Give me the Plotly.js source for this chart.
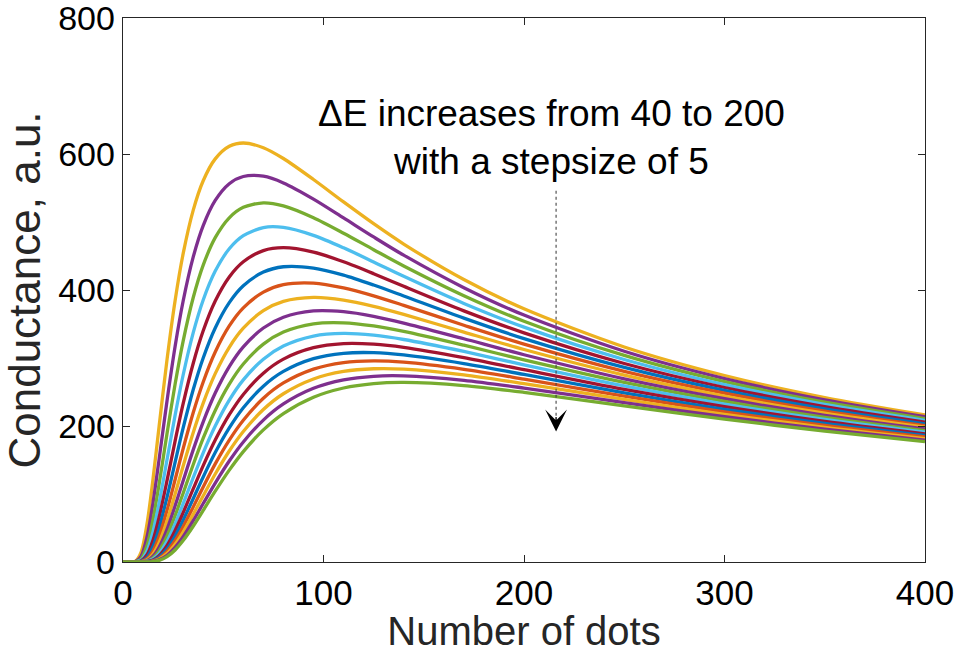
<!DOCTYPE html>
<html>
<head>
<meta charset="utf-8">
<script src="https://cdn.plot.ly/plotly-3.0.1.min.js"></script>
<style>html,body{margin:0;padding:0;background:#fff;}#chart{width:957px;height:653px;}</style>
</head>
<body>
<div id="chart"></div>
<script>
// Number of dots (x samples)
const dots = [0, 6, 9, 12, 15, 18, 22, 26, 30, 35, 40, 46, 53, 60, 70, 80, 95, 110, 125, 140, 170, 200, 250, 300, 350, 400];

// Conductance curves (a.u.), top curve first
const g01 = [0, 0.8, 14.2, 56.4, 122.7, 199.2, 298.7, 384.6, 453.4, 517.1, 560.6, 592.8, 611.3, 616.2, 609.3, 593.4, 562.5, 529.5, 497.5, 467.6, 415.4, 372.3, 316.2, 274.3, 241.9, 216.3];
const g02 = [0, 0.3, 8.2, 37.2, 87.9, 150.9, 238.0, 317.3, 383.8, 448.3, 494.7, 531.7, 556.3, 566.9, 567.3, 557.5, 533.7, 506.0, 478.0, 451.2, 403.4, 363.1, 309.9, 269.8, 238.5, 213.6];
const g03 = [0, 0.1, 4.7, 24.5, 63.0, 114.3, 189.6, 261.8, 324.9, 388.6, 436.6, 477.0, 506.2, 521.6, 528.2, 523.7, 506.3, 483.5, 459.3, 435.4, 391.7, 354.1, 303.8, 265.3, 235.1, 210.9];
const g04 = [0, 0, 2.7, 16.2, 45.1, 86.6, 151.0, 216.0, 275.0, 336.9, 385.3, 427.8, 460.6, 479.9, 491.8, 492.0, 480.3, 462.0, 441.3, 420.1, 380.3, 345.4, 297.8, 260.9, 231.7, 208.3];
const g05 = [0, 0, 1.5, 10.7, 32.3, 65.6, 120.3, 178.2, 232.8, 292.0, 340.0, 383.8, 419.2, 441.5, 457.9, 462.2, 455.7, 441.5, 424.0, 405.4, 369.3, 336.9, 291.9, 256.6, 228.5, 205.7];
const g06 = [0, 0, 0.9, 7.0, 23.2, 49.7, 95.9, 147.0, 197.1, 253.2, 300.1, 344.2, 381.4, 406.2, 426.3, 434.2, 432.3, 421.9, 407.3, 391.2, 358.6, 328.5, 286.1, 252.4, 225.2, 203.2];
const g07 = [0, 0, 0.5, 4.6, 16.6, 37.6, 76.4, 121.3, 166.8, 219.5, 264.8, 308.8, 347.1, 373.7, 396.9, 407.9, 410.2, 403.1, 391.4, 377.4, 348.2, 320.4, 280.4, 248.2, 222.0, 200.6];
const g08 = [0, 0, 0.3, 3.0, 11.9, 28.5, 60.8, 100.1, 141.2, 190.2, 233.7, 277.0, 315.8, 343.8, 369.6, 383.2, 389.1, 385.2, 376.0, 364.2, 338.1, 312.5, 274.9, 244.1, 218.9, 198.1];
const g09 = [0, 0, 0.2, 2.0, 8.5, 21.6, 48.5, 82.6, 119.5, 164.9, 206.2, 248.5, 287.4, 316.4, 344.1, 359.9, 369.2, 368.1, 361.3, 351.4, 328.3, 304.8, 269.4, 240.1, 215.8, 195.7];
const g10 = [0, 0, 0.1, 1.3, 6.1, 16.4, 38.6, 68.1, 101.2, 143.0, 182.0, 222.9, 261.5, 291.1, 320.4, 338.1, 350.2, 351.7, 347.1, 339.1, 318.8, 297.3, 264.1, 236.1, 212.7, 193.2];
const g11 = [0, 0, 0.1, 0.9, 4.4, 12.4, 30.8, 56.2, 85.7, 123.9, 160.6, 199.9, 238.0, 267.8, 298.3, 317.6, 332.3, 336.1, 333.5, 327.2, 309.6, 289.9, 258.9, 232.2, 209.7, 190.8];
const g12 = [0, 0, 0, 0.6, 3.1, 9.4, 24.5, 46.4, 72.5, 107.4, 141.7, 179.3, 216.6, 246.4, 277.7, 298.4, 315.2, 321.2, 320.4, 315.7, 300.6, 282.8, 253.8, 228.4, 206.7, 188.5];
const g13 = [0, 0, 0, 0.4, 2.2, 7.1, 19.5, 38.3, 61.4, 93.1, 125.1, 160.9, 197.1, 226.7, 258.6, 280.3, 299.1, 306.9, 307.9, 304.6, 291.9, 275.8, 248.7, 224.6, 203.8, 186.1];
const g14 = [0, 0, 0, 0.3, 1.6, 5.4, 15.6, 31.6, 51.9, 80.7, 110.4, 144.3, 179.3, 208.5, 240.8, 263.3, 283.7, 293.3, 295.8, 293.9, 283.4, 269.0, 243.8, 220.9, 200.9, 183.8];
const g15 = [0, 0, 0, 0.2, 1.1, 4.1, 12.4, 26.0, 44.0, 70.0, 97.4, 129.4, 163.2, 191.9, 224.2, 247.4, 269.2, 280.2, 284.2, 283.6, 275.2, 262.3, 239.0, 217.2, 198.1, 181.5];
const g16 = [0, 0, 0, 0.1, 0.8, 3.1, 9.9, 21.5, 37.2, 60.7, 86.0, 116.1, 148.5, 176.5, 208.7, 232.4, 255.4, 267.8, 273.1, 273.7, 267.2, 255.8, 234.3, 213.6, 195.3, 179.3];
const g17 = [0, 0, 0, 0.1, 0.6, 2.3, 7.9, 17.7, 31.5, 52.6, 75.9, 104.1, 135.1, 162.4, 194.3, 218.3, 242.3, 255.9, 262.4, 264.1, 259.5, 249.5, 229.6, 210.1, 192.5, 177.1];

const xTicks = [0, 100, 200, 300, 400];
const yTicks = [0, 200, 400, 600, 800];
const noteText = 'ΔE increases from 40 to 200<br>with a stepsize of 5';

const curves = [g01, g02, g03, g04, g05, g06, g07, g08, g09, g10, g11, g12, g13, g14, g15, g16, g17];
const palette = ['#EDB120', '#7E2F8E', '#77AC30', '#4DBEEE', '#A2142F', '#0072BD', '#D95319'];

const traces = curves.map((g, i) => ({
  x: dots, y: g, type: 'scatter', mode: 'lines',
  line: {color: palette[i % 7], width: 3.3, shape: 'spline', smoothing: 0.8},
  hoverinfo: 'skip', showlegend: false
}));

const FONT = 'Liberation Sans, Arial, Helvetica, sans-serif';
const axCol = '#262626';

const layout = {
  width: 957, height: 653,
  margin: {l: 123, r: 32, t: 18, b: 91},
  paper_bgcolor: '#fff', plot_bgcolor: '#fff',
  font: {family: FONT, color: '#000'},
  showlegend: false,
  xaxis: {
    range: [0, 400], tickvals: xTicks, ticktext: xTicks.map(String),
    ticks: 'inside', ticklen: 7, tickwidth: 1, tickcolor: axCol,
    showline: true, linecolor: axCol, linewidth: 1.3, mirror: 'ticks',
    showgrid: false, zeroline: false, ticklabeloverflow: 'allow',
    tickfont: {family: FONT, size: 35, color: '#000'},
    title: {text: 'Number of dots', font: {family: FONT, size: 40, color: '#262626'}, standoff: 4},
    automargin: false
  },
  yaxis: {
    range: [0, 800], tickvals: yTicks, ticktext: yTicks.map(String),
    ticks: 'inside', ticklen: 7, tickwidth: 1, tickcolor: axCol,
    showline: true, linecolor: axCol, linewidth: 1.3, mirror: 'ticks',
    showgrid: false, zeroline: false, ticklabeloverflow: 'allow',
    tickfont: {family: FONT, size: 34, color: '#000'},
    title: {text: 'Conductance, a.u.', font: {family: FONT, size: 44, color: '#262626'}, standoff: 4},
    automargin: false
  },
  shapes: [{
    type: 'line', xref: 'x', yref: 'y', x0: 216, x1: 216, y0: 546, y1: 210,
    line: {color: '#444', width: 1.1, dash: 'dot'}
  }],
  annotations: [{
    xref: 'x', yref: 'y', x: 213.5, y: 625, text: noteText, showarrow: false,
    font: {family: FONT, size: 37, color: '#000'}, align: 'center'
  }, {
    xref: 'x', yref: 'y', x: 216, y: 192, text: '', showarrow: true,
    axref: 'pixel', ayref: 'pixel', ax: 0, ay: -16,
    arrowhead: 3, arrowsize: 2.8, arrowwidth: 1.3, arrowcolor: '#000'
  }]
};

Plotly.newPlot('chart', traces, layout, {staticPlot: true, displayModeBar: false});
</script>
</body>
</html>
